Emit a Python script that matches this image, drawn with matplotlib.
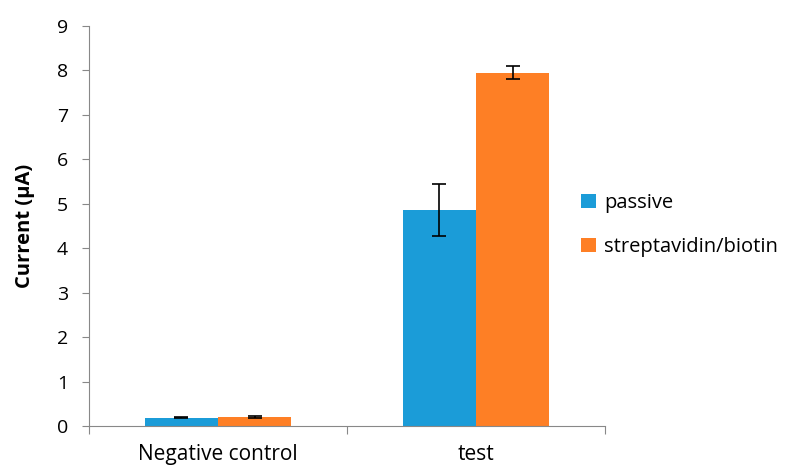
import numpy as np
import matplotlib.pyplot as plt

categories = ["Negative control", "test"]
passive = [0.19, 4.86]
passive_err = [0.02, 0.58]
strep = [0.20, 7.95]
strep_err = [0.02, 0.15]
series_names = ["passive", "streptavidin/biotin"]

plt.rcParams["font.family"] = ["Open Sans", "DejaVu Sans"]

fig = plt.figure(figsize=(7.96, 4.71), dpi=100)
ax = fig.add_axes([89 / 796, 1 - 426 / 471, (605 - 89) / 796, (426 - 26) / 471])

x = np.arange(len(categories)) + 0.5
w = 0.283
ekw = dict(elinewidth=1.2, capsize=5, capthick=1.2, ecolor="black")
b1 = ax.bar(x - w / 2, passive, w, yerr=passive_err, color="#1b9cd8",
            label=series_names[0], error_kw=ekw)
b2 = ax.bar(x + w / 2, strep, w, yerr=strep_err, color="#fe7f25",
            label=series_names[1], error_kw=ekw)

ax.set_xlim(0, 2)
ax.set_ylim(0, 9)
ax.set_yticks(range(10))
ax.set_xticks([0, 1, 2])
ax.set_xticklabels([])
ax.set_xticks(x, minor=True)
ax.set_xticklabels(categories, minor=True)
ax.tick_params(axis="x", which="minor", length=0, pad=13, labelsize=15)
ax.tick_params(axis="x", which="major", length=6, color="#888888")
ax.tick_params(axis="y", length=5, color="#888888", labelsize=14, pad=10)
for s in ["top", "right"]:
    ax.spines[s].set_visible(False)
for s in ["left", "bottom"]:
    ax.spines[s].set_color("#888888")
ax.set_ylabel("Current (µA)", fontsize=14.5, fontweight="bold", labelpad=16)

fig.legend(handles=[b1, b2], loc="center left", bbox_to_anchor=(563 / 796, 1 - 225 / 471),
           frameon=False, fontsize=14.5, handlelength=0.75, handleheight=0.75,
           handletextpad=0.4, labelspacing=1.2)

fig.savefig("out.png", dpi=100)
